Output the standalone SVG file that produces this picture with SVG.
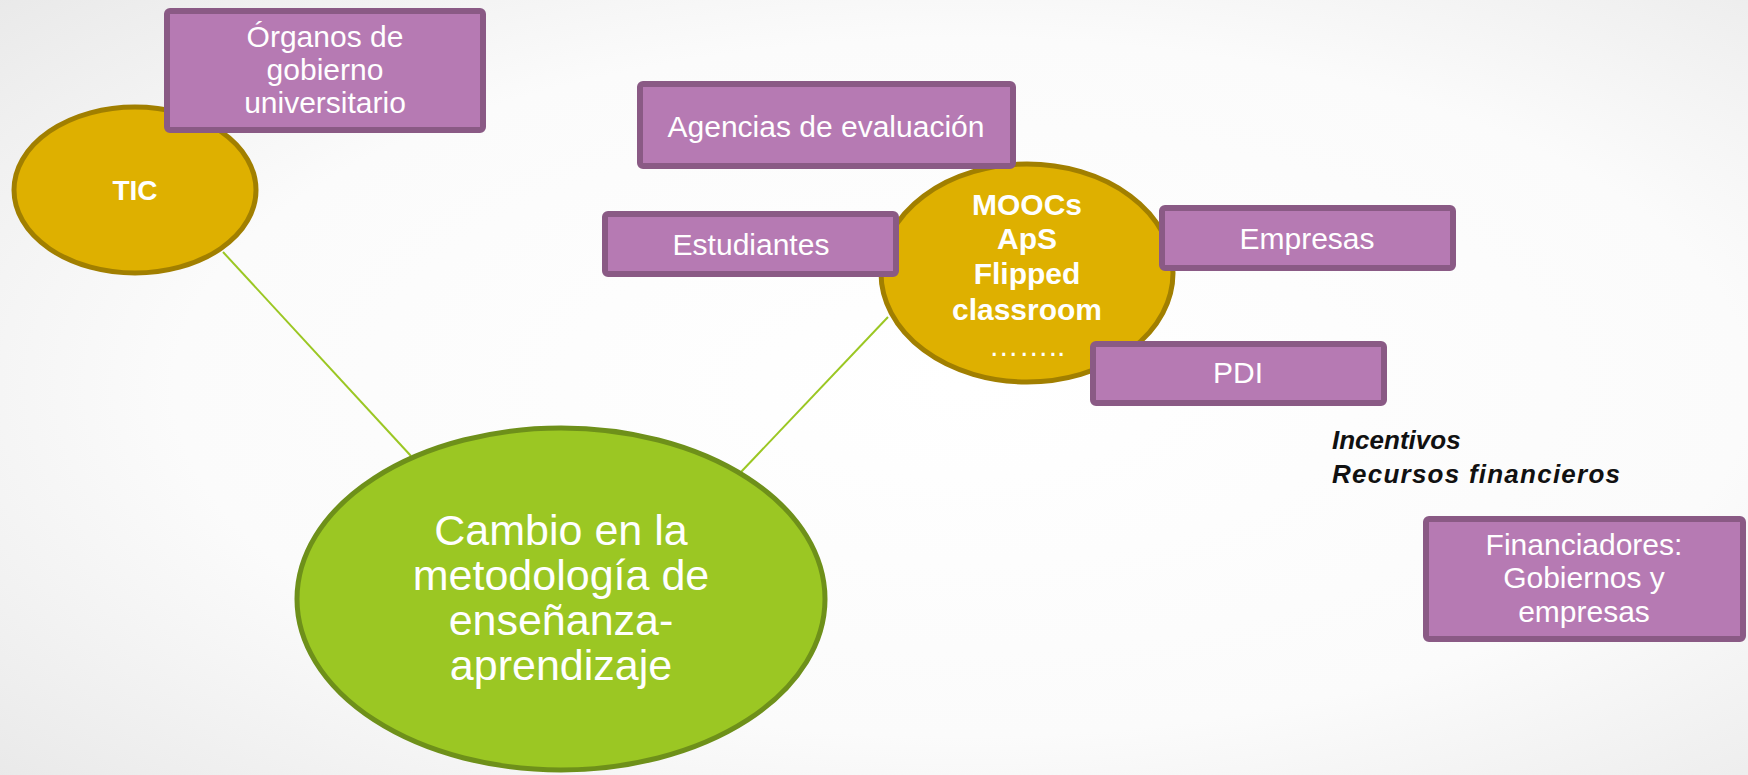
<svg xmlns="http://www.w3.org/2000/svg" width="1748" height="775" viewBox="0 0 1748 775">
<defs>
<radialGradient id="bg" cx="0.55" cy="0.5" r="0.75">
<stop offset="0" stop-color="#ffffff"/>
<stop offset="0.6" stop-color="#fbfbfb"/>
<stop offset="1" stop-color="#e9e9e9"/>
</radialGradient>
</defs>
<style>
.box{fill:#b67ab3;stroke:#8a5a85;stroke-width:6}
.gold{fill:#deb000;stroke:#a17f00;stroke-width:5}
.green{fill:#9bc723;stroke:#6e901a;stroke-width:5}
.conn{stroke:#9bc723;stroke-width:2;fill:none}
.t{font-family:"Liberation Sans",Arial,sans-serif;fill:#ffffff;text-anchor:middle;font-size:30px}
.b{font-weight:bold}
.big{font-size:43px}
.note{font-family:"Liberation Sans",Arial,sans-serif;fill:#111111;font-size:26px;font-weight:bold;font-style:italic}
</style>
<rect x="0" y="0" width="1748" height="775" fill="url(#bg)"/>
<g id="connectors">
<line class="conn" x1="223" y1="252" x2="411" y2="456"/>
<line class="conn" x1="888" y1="317" x2="741" y2="472"/>
</g>
<g id="tic">
<ellipse class="gold" cx="135" cy="190" rx="121" ry="83"/>
<text class="t b" x="135" y="200" style="font-size:28px">TIC</text>
</g>
<g id="moocs">
<ellipse class="gold" cx="1027" cy="273" rx="146" ry="109"/>
<text class="t b" x="1027" y="215">MOOCs</text>
<text class="t b" x="1027" y="249">ApS</text>
<text class="t b" x="1027" y="284">Flipped</text>
<text class="t b" x="1027" y="320">classroom</text>
<text class="t" x="1027" y="356">……..</text>
</g>
<g id="cambio">
<ellipse class="green" cx="561" cy="599" rx="264" ry="171"/>
<text class="t big" x="561" y="545">Cambio en la</text>
<text class="t big" x="561" y="590">metodología de</text>
<text class="t big" x="561" y="635">enseñanza-</text>
<text class="t big" x="561" y="680">aprendizaje</text>
</g>
<g id="organos">
<rect class="box" x="167" y="11" width="316" height="119" rx="3"/>
<text class="t" x="325" y="47">Órganos de</text>
<text class="t" x="325" y="80">gobierno</text>
<text class="t" x="325" y="113">universitario</text>
</g>
<g id="agencias">
<rect class="box" x="640" y="84" width="373" height="82" rx="3"/>
<text class="t" x="826" y="137">Agencias de evaluación</text>
</g>
<g id="estudiantes">
<rect class="box" x="605" y="214" width="291" height="60" rx="3"/>
<text class="t" x="751" y="255">Estudiantes</text>
</g>
<g id="empresas">
<rect class="box" x="1162" y="208" width="291" height="60" rx="3"/>
<text class="t" x="1307" y="249">Empresas</text>
</g>
<g id="pdi">
<rect class="box" x="1093" y="344" width="291" height="59" rx="3"/>
<text class="t" x="1238" y="383">PDI</text>
</g>
<g id="financiadores">
<rect class="box" x="1426" y="519" width="317" height="120" rx="3"/>
<text class="t" x="1584" y="555">Financiadores:</text>
<text class="t" x="1584" y="588">Gobiernos y</text>
<text class="t" x="1584" y="622">empresas</text>
</g>
<g id="incentivos">
<text class="note" x="1332" y="449">Incentivos</text>
<text class="note" x="1332" y="483" textLength="288" lengthAdjust="spacing">Recursos financieros</text>
</g>
</svg>
